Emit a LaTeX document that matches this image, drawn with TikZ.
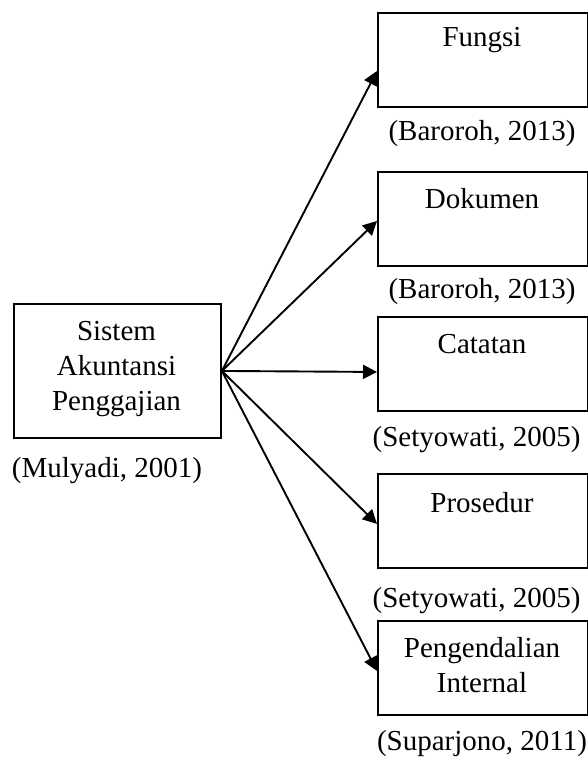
\documentclass[tikz,border=0pt]{standalone}
\usepackage{fontspec}
\setmainfont{Liberation Serif}
\usepackage{tikz}
\usetikzlibrary{positioning,arrows.meta}

\tikzset{
  itembox/.style={draw, line width=1.9pt, minimum width=210pt, minimum height=94pt, anchor=north west, inner sep=0pt},
  boxtext/.style={anchor=north, align=center, inner sep=0pt, font=\fontsize{29}{35}\selectfont},
  source/.style={anchor=north, inner sep=0pt, font=\fontsize{29}{35}\selectfont},
  link/.style={-{Triangle[length=14pt,width=14pt]}, line width=1.9pt}
}

\begin{document}
\begin{tikzpicture}[x=1pt,y=-1pt]
  \useasboundingbox (0,0) rectangle (588,758);
  % main box
  \node[itembox, minimum width=207pt, minimum height=134pt] (sistem) at (13,303) {};
  \node[boxtext] (sistemtext) at (116.5,321) {Sistem\\Akuntansi\\Penggajian};
  \node[source] (mulyadi) at (107,457) {(Mulyadi, 2001)};
  % elements
  \node[itembox] (fungsi) at (377,12) {};
  \node[boxtext] (fungsitext) at (482,27) {Fungsi};
  \node[source] (fungsicite) at (482,120) {(Baroroh, 2013)};
  \node[itembox] (dokumen) at (377,171) {};
  \node[boxtext] (dokumentext) at (482,188) {Dokumen};
  \node[source] (dokumencite) at (482,278) {(Baroroh, 2013)};
  \node[itembox] (catatan) at (377,316) {};
  \node[boxtext] (catatantext) at (482,334) {Catatan};
  \node[source] (catatancite) at (476.5,426) {(Setyowati, 2005)};
  \node[itembox] (prosedur) at (377,473) {};
  \node[boxtext] (prosedurtext) at (482,492) {Prosedur};
  \node[source] (prosedurcite) at (476.5,587) {(Setyowati, 2005)};
  \node[itembox] (internal) at (377,620) {};
  \node[boxtext] (internaltext) at (482,637) {Pengendalian\\Internal};
  \node[source] (internalcite) at (482,730) {(Suparjono, 2011)};
  % arrows
  \draw[link] (sistem.east) -- ([yshift=-11pt]fungsi.west);
  \draw[link] (sistem.east) -- ([yshift=-2pt]dokumen.west);
  \draw[link] (sistem.east) -- ([yshift=-8pt]catatan.west);
  \draw[link] (sistem.east) -- ([yshift=-3pt]prosedur.west);
  \draw[link] (sistem.east) -- ([yshift=-3pt]internal.west);
\end{tikzpicture}
\end{document}
